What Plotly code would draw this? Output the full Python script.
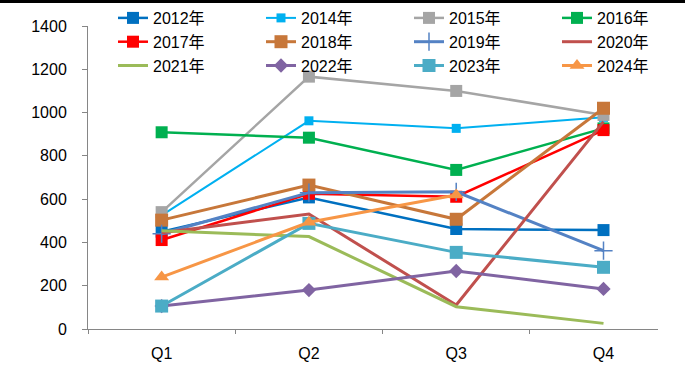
import plotly.graph_objects as go

quarters = ["Q1", "Q2", "Q3", "Q4"]

s2012 = [450, 608, 462, 457]
s2014 = [525, 962, 927, 978]
s2015 = [540, 1166, 1100, 989]
s2016 = [909, 884, 735, 927]
s2017 = [411, 625, 611, 919]
s2018 = [503, 665, 507, 1020]
s2019 = [440, 630, 634, 362]
s2020 = [445, 531, 111, 958]
s2021 = [454, 427, 103, 26]
s2022 = [106, 180, 268, 185]
s2023 = [106, 488, 354, 285]
s2024 = [240, 493, 619, None]

# name, values, colour, line width, marker symbol, marker size, legend column
series = [
    ("2012年", s2012, "#0070C0", 2.5, "square", 12, "legend"),
    ("2014年", s2014, "#00B0F0", 2.0, "square", 9, "legend2"),
    ("2015年", s2015, "#A5A5A5", 2.5, "square", 12, "legend3"),
    ("2016年", s2016, "#00B050", 2.5, "square", 12, "legend4"),
    ("2017年", s2017, "#FF0000", 2.5, "square", 12, "legend"),
    ("2018年", s2018, "#C7773A", 3.0, "square", 13, "legend2"),
    ("2019年", s2019, "#5482C4", 3.0, "cross-thin", 13, "legend3"),
    ("2020年", s2020, "#C0504D", 3.0, None, 0, "legend4"),
    ("2021年", s2021, "#9BBB59", 3.0, None, 0, "legend"),
    ("2022年", s2022, "#8064A2", 3.0, "diamond", 11, "legend2"),
    ("2023年", s2023, "#4BACC6", 3.0, "square", 13, "legend3"),
    ("2024年", s2024, "#F79646", 3.0, "triangle-up", 13, "legend4"),
]

FONT = "Liberation Sans, Arial, Noto Sans CJK SC, sans-serif"
W, H = 685, 378
# plot area in pixels
PL, PR, PT, PB = 88, 658, 26, 329

fig = go.Figure()
for name, vals, color, width, symbol, size, leg in series:
    if symbol is None:
        fig.add_trace(go.Scatter(
            x=quarters, y=vals, name=name, mode="lines", legend=leg,
            line=dict(color=color, width=width),
        ))
    else:
        marker = dict(symbol=symbol, size=size, color=color)
        if symbol == "cross-thin":
            marker["line"] = dict(color=color, width=1.5)
        fig.add_trace(go.Scatter(
            x=quarters, y=vals, name=name, mode="lines+markers", legend=leg,
            line=dict(color=color, width=width),
            marker=marker,
        ))


def legend_column(px):
    return dict(
        orientation="v", x=px / W, xanchor="left", y=1 - 1 / H, yanchor="top",
        bgcolor="rgba(0,0,0,0)", font=dict(size=16, family=FONT),
        itemwidth=30, tracegroupgap=0,
    )


fig.update_layout(
    width=W, height=H,
    margin=dict(l=0, r=0, t=0, b=0, autoexpand=False),
    paper_bgcolor="white", plot_bgcolor="white",
    font=dict(family=FONT, size=16, color="#000000"),
    showlegend=True,
    legend=legend_column(113),
    legend2=legend_column(261),
    legend3=legend_column(409),
    legend4=legend_column(557),
    xaxis=dict(
        domain=[PL / W, PR / W],
        type="category", range=[-0.5, 3.37],
        showline=True, linecolor="#868686", linewidth=1,
        ticks="outside", tickson="boundaries", ticklen=4, tickcolor="#868686",
        showgrid=False, zeroline=False, ticklabelstandoff=10,
    ),
    yaxis=dict(
        domain=[(H - PB) / H, (H - PT) / H],
        range=[0, 1400], tickvals=[0, 200, 400, 600, 800, 1000, 1200, 1400],
        showline=True, linecolor="#868686", linewidth=1,
        ticks="outside", ticklen=5, tickcolor="#868686",
        showgrid=False, zeroline=False, ticklabelstandoff=12,
    ),
    shapes=[dict(
        type="line", xref="paper", yref="paper",
        x0=0, x1=1, y0=1 - 1.5 / H, y1=1 - 1.5 / H,
        line=dict(color="black", width=3),
    )],
)

fig.write_html("out.html")
